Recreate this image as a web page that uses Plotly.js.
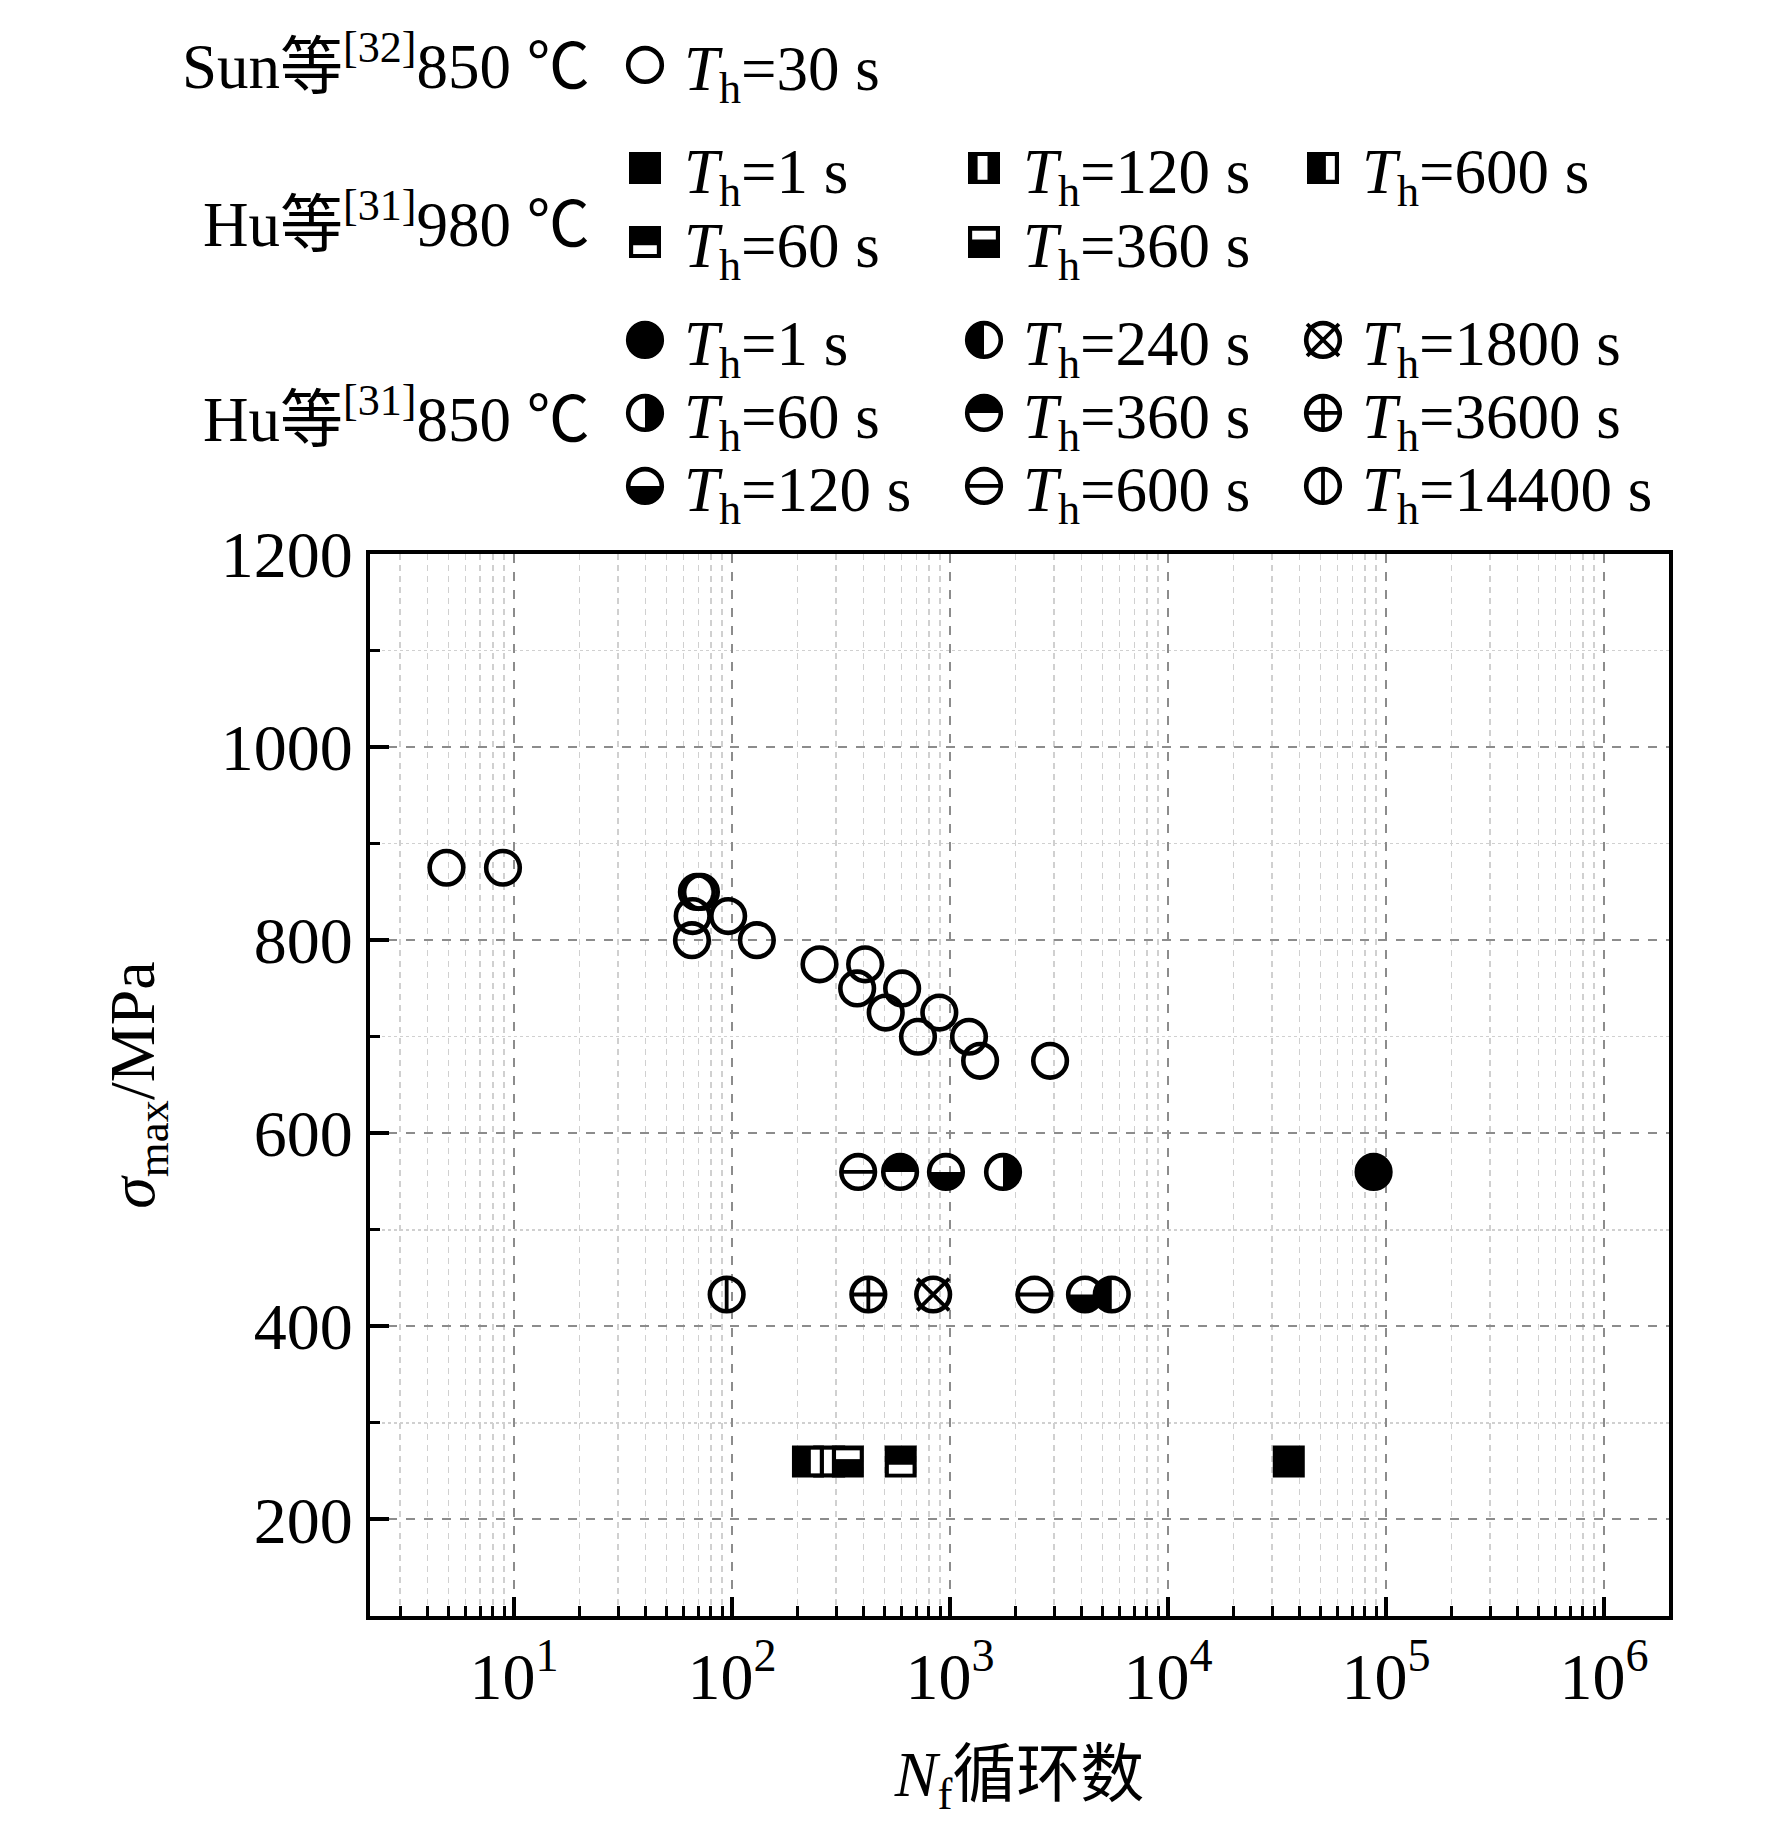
<!DOCTYPE html>
<html>
<head>
<meta charset="utf-8">
<script src="https://cdn.plot.ly/plotly-3.0.1.min.js"></script>
<style>body{margin:0;background:#fff}</style>
</head>
<body>
<div id="chart" style="width:1772px;height:1843px"></div>
<script>
// Sun et al. 850 C, Th = 30 s
var sunN = [4.9, 8.9, 69, 72, 66, 96, 65.5, 130, 252, 408, 375, 603, 507, 893, 713, 1222, 1374, 2877];
var sunS = [875, 875, 850, 850, 825, 825, 800, 800, 775, 775, 750, 750, 725, 725, 700, 700, 675, 675];

// Hu et al. 980 C
var hu980Hold = ['1 s', '60 s', '120 s', '360 s', '600 s'];
var hu980N = [[35800], [594], [279], [340], [223]];
var hu980S = [[260], [260], [260], [260], [260]];

// Hu et al. 850 C
var hu850Hold = ['1 s', '60 s', '120 s', '240 s', '360 s', '600 s', '1800 s', '3600 s', '14400 s'];
var hu850N = [[87700], [1750], [958, 4160], [5520], [590], [379, 2438], [837], [422], [94.5]];
var hu850S = [[560], [560], [560, 433], [433], [560], [560, 433], [433], [433], [433]];

var xTickVals = [10, 100, 1000, 10000, 100000, 1000000];
var xTickText = ['10<sup>1</sup>', '10<sup>2</sup>', '10<sup>3</sup>', '10<sup>4</sup>', '10<sup>5</sup>', '10<sup>6</sup>'];

// marker look + where its legend entry sits (symbol centre, px)
var sunGlyph = 'open', sunCell = [640, 65];
var hu980Glyph = ['sqFull', 'sqBottomWhite', 'sqStripeLeft', 'sqTopWhite', 'sqStripeRight'];
var hu980Cell = [[640, 168], [640, 242], [979, 168], [979, 242], [1318, 168]];
var hu850Glyph = ['full', 'right', 'bottom', 'left', 'top', 'hline', 'xcross', 'pcross', 'vline'];
var hu850Cell = [[640, 340], [640, 413], [640, 486], [979, 340], [979, 413], [979, 486], [1318, 340], [1318, 413], [1318, 486]];

var FONT = 'Liberation Serif, "Noto Sans CJK SC", serif';
var L = 370, R = 1669, T = 554, B = 1616;

function px2x(p) { return (p - L) / (R - L); }
function px2y(p) { return (B - p) / (B - T); }

function label(hold) { return '<i>T</i><sub>h</sub>=' + hold; }

var data = [], cells = [];
function addSeries(x, y, name, glyph, cell) {
  var id = data.length === 0 ? 'legend' : 'legend' + (data.length + 1);
  data.push({x: x, y: y, type: 'scatter', mode: 'markers', name: name, legend: id, meta: glyph,
    marker: {symbol: 'circle', size: 30, color: '#000'}});
  cells.push([id, cell]);
}
addSeries(sunN, sunS, label('30 s'), sunGlyph, sunCell);
hu980Hold.forEach(function(h, i) { addSeries(hu980N[i], hu980S[i], label(h), hu980Glyph[i], hu980Cell[i]); });
hu850Hold.forEach(function(h, i) { addSeries(hu850N[i], hu850S[i], label(h), hu850Glyph[i], hu850Cell[i]); });

var minorX = [];
for (var e = 0; e <= 6; e++) {
  for (var k = 2; k <= 9; k++) minorX.push(k * Math.pow(10, e));
}

var ITEMW = 68;
var layout = {
  width: 1772, height: 1843,
  margin: {l: L, r: 1772 - R, t: T, b: 1843 - B},
  paper_bgcolor: '#fff', plot_bgcolor: '#fff',
  font: {family: FONT, color: '#000'},
  showlegend: true,
  xaxis: {
    type: 'log', range: [0.3394, 6.298],
    tickmode: 'array', tickvals: xTickVals, ticktext: xTickText,
    ticks: 'inside', ticklen: 19, tickwidth: 4, tickcolor: '#000',
    showline: true, linewidth: 4, linecolor: '#000', mirror: true, zeroline: false,
    showgrid: true, gridcolor: '#8c8c8c', gridwidth: 2, griddash: 'dash',
    tickfont: {family: FONT, size: 66, color: '#000'},
    minor: {tickmode: 'array', tickvals: minorX, ticks: 'inside', ticklen: 10, tickwidth: 3, tickcolor: '#000',
      showgrid: true, gridcolor: '#d0d0d0', gridwidth: 1.5, griddash: '6px,5px'},
    title: {text: '<i>N</i><sub>f</sub>循环数', standoff: 40, font: {family: FONT, size: 64, color: '#000'}}
  },
  yaxis: {
    range: [100, 1200], tick0: 0, dtick: 200,
    ticks: 'inside', ticklen: 19, tickwidth: 4, tickcolor: '#000',
    showline: true, linewidth: 4, linecolor: '#000', mirror: true, zeroline: false,
    showgrid: true, gridcolor: '#8c8c8c', gridwidth: 2, griddash: 'dash',
    tickfont: {family: FONT, size: 66, color: '#000'},
    minor: {tick0: 0, dtick: 100, ticks: 'inside', ticklen: 10, tickwidth: 3, tickcolor: '#000',
      showgrid: true, gridcolor: '#d0d0d0', gridwidth: 1.5, griddash: 'dot'},
    title: {text: '<i>σ</i><sub>max</sub>/MPa', standoff: 46, font: {family: FONT, size: 64, color: '#000'}}
  },
  annotations: [
    {text: 'Sun等<sup>[32]</sup>850 ℃', y: px2y(63)},
    {text: 'Hu等<sup>[31]</sup>980 ℃', y: px2y(221)},
    {text: 'Hu等<sup>[31]</sup>850 ℃', y: px2y(415)}
  ].map(function(a) {
    return {xref: 'paper', yref: 'paper', x: px2x(592), xanchor: 'right', y: a.y, yanchor: 'middle',
      text: a.text, showarrow: false, font: {family: FONT, size: 63, color: '#000'}};
  })
};

// one small legend per entry, placed on the grid of the reference key
cells.forEach(function(c) {
  layout[c[0]] = {x: px2x(c[1][0] - ITEMW / 2), xanchor: 'left', y: px2y(c[1][1]), yanchor: 'middle',
    itemwidth: ITEMW, bgcolor: 'rgba(0,0,0,0)', borderwidth: 0,
    font: {family: FONT, size: 63, color: '#000'}};
});

// hand drawn marker glyphs (half filled circles etc.)
function glyph(key) {
  var r = 16.8, sw = 4.6;
  var circ = 'M' + r + ',0A' + r + ',' + r + ' 0 1,1 ' + (-r) + ',0A' + r + ',' + r + ' 0 1,1 ' + r + ',0Z';
  var ring = {d: circ, fill: 'none', stroke: '#000', sw: sw};
  var blk = function(d) { return {d: d, fill: '#000', stroke: 'none', sw: 0}; };
  var ln = function(d) { return {d: d, fill: 'none', stroke: '#000', sw: 3.8}; };
  var h = 16;
  var sq = 'M' + (-h) + ',' + (-h) + 'H' + h + 'V' + h + 'H' + (-h) + 'Z';
  var wr = function(x0, y0, x1, y1) {
    return {d: 'M' + x0 * h + ',' + y0 * h + 'H' + x1 * h + 'V' + y1 * h + 'H' + x0 * h + 'Z', fill: '#fff', stroke: 'none', sw: 0};
  };
  var a = r * 0.95;
  switch (key) {
    case 'open': return [ring];
    case 'full': return [{d: circ, fill: '#000', stroke: '#000', sw: sw}];
    case 'left': return [blk('M0,' + (-r) + 'A' + r + ',' + r + ' 0 0,0 0,' + r + 'Z'), ring];
    case 'right': return [blk('M0,' + (-r) + 'A' + r + ',' + r + ' 0 0,1 0,' + r + 'Z'), ring];
    case 'top': return [blk('M' + (-r) + ',0A' + r + ',' + r + ' 0 0,1 ' + r + ',0Z'), ring];
    case 'bottom': return [blk('M' + (-r) + ',0A' + r + ',' + r + ' 0 0,0 ' + r + ',0Z'), ring];
    case 'hline': return [ring, ln('M' + (-r) + ',0H' + r)];
    case 'vline': return [ring, ln('M0,' + (-r) + 'V' + r)];
    case 'pcross': return [ring, ln('M' + (-r) + ',0H' + r + 'M0,' + (-r) + 'V' + r)];
    case 'xcross': return [ring, ln('M' + (-a) + ',' + (-a) + 'L' + a + ',' + a + 'M' + a + ',' + (-a) + 'L' + (-a) + ',' + a)];
    case 'sqFull': return [blk(sq)];
    case 'sqStripeRight': return [blk(sq), wr(0.18, -0.74, 0.74, 0.74)];
    case 'sqStripeLeft': return [blk(sq), wr(-0.4, -0.74, 0.22, 0.74)];
    case 'sqBottomWhite': return [blk(sq), wr(-0.74, 0.2, 0.74, 0.76)];
    case 'sqTopWhite': return [blk(sq), wr(-0.74, -0.7, 0.74, -0.15)];
  }
  return [ring];
}

function dress(pt, key) {
  var ns = 'http://www.w3.org/2000/svg';
  var g = document.createElementNS(ns, 'g');
  g.setAttribute('transform', pt.getAttribute('transform'));
  glyph(key).forEach(function(p) {
    var el = document.createElementNS(ns, 'path');
    el.setAttribute('d', p.d);
    el.setAttribute('fill', p.fill);
    el.setAttribute('stroke', p.stroke);
    el.setAttribute('stroke-width', p.sw);
    g.appendChild(el);
  });
  pt.style.display = 'none';
  pt.parentNode.insertBefore(g, pt.nextSibling);
}

var gd = document.getElementById('chart');
Plotly.newPlot(gd, data, layout, {staticPlot: true}).then(function() {
  gd.querySelectorAll('.scatterlayer .trace').forEach(function(t) {
    var key = t.__data__[0].trace.meta;
    t.querySelectorAll('path.point').forEach(function(p) { dress(p, key); });
  });
  gd.querySelectorAll('.infolayer .traces').forEach(function(t) {
    var key = t.__data__[0].trace.meta;
    t.querySelectorAll('path.scatterpts').forEach(function(p) { dress(p, key); });
  });
});
</script>
</body>
</html>
